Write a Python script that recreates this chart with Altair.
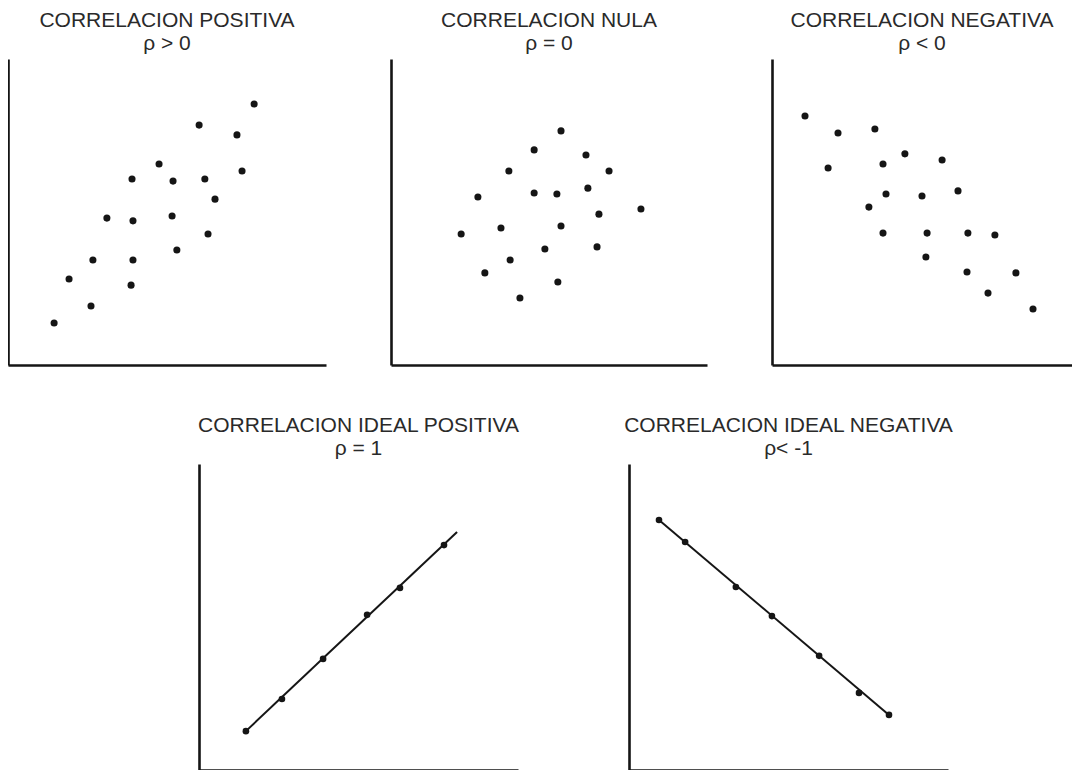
import altair as alt
import pandas as pd

# Panel 1: correlacion positiva
pos_x = [77.4, 60.1, 72.0, 47.5, 39.0, 51.9, 61.9, 73.6, 65.1, 31.1,
         39.3, 51.6, 62.9, 53.1, 26.7, 39.3, 19.2, 38.7, 26.1, 14.5]
pos_y = [85.3, 78.4, 75.2, 65.7, 60.8, 60.1, 60.8, 63.4, 54.2, 48.0,
         47.1, 48.7, 42.8, 37.6, 34.3, 34.3, 28.1, 26.1, 19.3, 13.7]

# Panel 2: correlacion nula
nul_x = [53.8, 45.3, 61.7, 37.3, 69.0, 27.5, 45.3, 52.5, 62.3, 79.1,
         65.8, 22.2, 34.8, 53.8, 48.7, 65.2, 37.7, 29.7, 52.8, 40.8]
nul_y = [76.5, 70.3, 68.6, 63.4, 63.4, 54.9, 56.2, 55.9, 57.8, 51.0,
         49.3, 42.8, 44.8, 45.4, 37.9, 38.6, 34.3, 30.1, 27.1, 21.9]

# Panel 3: correlacion negativa
neg_x = [11.0, 22.0, 34.3, 18.7, 44.3, 37.0, 56.7, 38.0, 50.0, 62.0,
         32.3, 37.0, 51.7, 65.3, 74.3, 51.3, 65.0, 81.3, 72.0, 87.0]
neg_y = [81.4, 75.8, 77.1, 64.4, 69.0, 65.7, 67.0, 55.9, 55.2, 56.9,
         51.6, 43.1, 43.1, 43.1, 42.5, 35.3, 30.4, 30.1, 23.5, 18.3]

# Panel 4: correlacion ideal positiva
ipos_x = [14.7, 26.0, 38.9, 52.7, 63.0, 76.8]
ipos_y = [12.7, 23.2, 36.3, 50.7, 59.5, 73.5]
ipos_line_x = [14.7, 80.9]
ipos_line_y = [12.7, 77.8]

# Panel 5: correlacion ideal negativa
ineg_x = [9.4, 17.6, 33.5, 44.8, 59.6, 72.1, 81.5]
ineg_y = [81.7, 74.5, 59.8, 50.3, 37.3, 25.2, 18.0]
ineg_line_x = [9.4, 81.5]
ineg_line_y = [81.7, 18.0]

titles = ["CORRELACION POSITIVA", "CORRELACION NULA", "CORRELACION NEGATIVA",
          "CORRELACION IDEAL POSITIVA", "CORRELACION IDEAL NEGATIVA"]
subtitles = ["\u03c1 > 0", "\u03c1 = 0", "\u03c1 < 0", "\u03c1 = 1", "\u03c1< -1"]

FONT = "Liberation Sans"
INK = "#151515"
TXT = "#2a2a2a"

AX = alt.Axis(title=None, labels=False, ticks=False, grid=False, domain=True,
              domainColor=INK, domainWidth=2.6)
SC = alt.Scale(domain=[0, 100], nice=False, zero=False)


def ttl(i):
    return alt.TitleParams(text=titles[i], subtitle=subtitles[i], anchor="middle",
                           font=FONT, fontSize=21, fontWeight="normal", color=TXT,
                           subtitleFont=FONT, subtitleFontSize=21, subtitleColor=TXT,
                           subtitlePadding=2, offset=5)


def scatter(xs, ys, i, w, h):
    df = pd.DataFrame({"x": xs, "y": ys})
    return alt.Chart(df).mark_circle(size=50, color=INK, opacity=1).encode(
        x=alt.X("x:Q", scale=SC, axis=AX),
        y=alt.Y("y:Q", scale=SC, axis=AX),
    ).properties(width=w, height=h, title=ttl(i))


def ideal(xs, ys, lx, ly, i, w, h):
    pts = pd.DataFrame({"x": xs, "y": ys})
    ln = pd.DataFrame({"x": lx, "y": ly})
    line = alt.Chart(ln).mark_line(color=INK, strokeWidth=2).encode(
        x=alt.X("x:Q", scale=SC, axis=AX),
        y=alt.Y("y:Q", scale=SC, axis=AX),
    )
    dots = alt.Chart(pts).mark_circle(size=44, color=INK, opacity=1).encode(
        x=alt.X("x:Q", scale=SC, axis=AX),
        y=alt.Y("y:Q", scale=SC, axis=AX),
    )
    return alt.layer(line, dots).properties(width=w, height=h, title=ttl(i))


p1 = scatter(pos_x, pos_y, 0, 318, 306)
p2 = scatter(nul_x, nul_y, 1, 316, 306)
p3 = scatter(neg_x, neg_y, 2, 300, 306)

p4 = ideal(ipos_x, ipos_y, ipos_line_x, ipos_line_y, 3, 319, 306)
p5 = ideal(ineg_x, ineg_y, ineg_line_x, ineg_line_y, 4, 319, 306)

spacer = alt.Chart(pd.DataFrame({"x": [0]})).mark_point(opacity=0).encode(
    x=alt.X("x:Q", axis=None), y=alt.Y("x:Q", axis=None)
).properties(width=80, height=306)

top = alt.hconcat(p1, p2, p3, spacing=65, bounds="flush")
bottom = alt.hconcat(spacer, p4, p5, spacing=111, bounds="flush")

chart = alt.vconcat(top, bottom, spacing=50).properties(
    padding={"left": 0, "top": 2, "right": 0, "bottom": 0}
).configure_view(stroke=None)

chart.save("out.html", embed_options={"renderer": "svg", "actions": False})
